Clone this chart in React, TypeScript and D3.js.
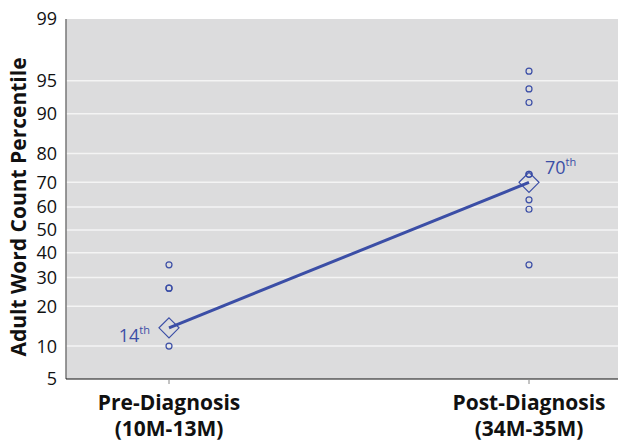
import React from "react";
import * as d3 from "d3";

const categories = ["Pre-Diagnosis", "Post-Diagnosis"];
const categorySub = ["(10M-13M)", "(34M-35M)"];
const preValues = [35, 26, 26, 10];
const postValues = [96, 94, 92, 73, 73, 63, 59, 35];
const summaryValues = [14, 70];
const summaryLabels = ["14", "70"];
const yTicks = [5, 10, 20, 30, 40, 50, 60, 70, 80, 90, 95, 99];

const W = 618, H = 441;
const M = { left: 66, right: 0, top: 19, bottom: 62 };
const BLUE = "#3b4ea6";
const FONT = "'Open Sans', 'Noto Sans', sans-serif";

function probit(p: number) {
  // Acklam's inverse normal CDF
  const a = [-3.969683028665376e1, 2.209460984245205e2, -2.759285104469687e2, 1.38357751867269e2, -3.066479806614716e1, 2.506628277459239];
  const b = [-5.447609879822406e1, 1.615858368580409e2, -1.556989798598866e2, 6.680131188771972e1, -1.328068155288572e1];
  const c = [-7.784894002430293e-3, -3.223964580411365e-1, -2.400758277161838, -2.549732539343734, 4.374664141464968, 2.938163982698783];
  const d = [7.784695709041462e-3, 3.224671290700398e-1, 2.445134137142996, 3.754408661907416];
  const pl = 0.02425;
  let q, r;
  if (p < pl) {
    q = Math.sqrt(-2 * Math.log(p));
    return (((((c[0] * q + c[1]) * q + c[2]) * q + c[3]) * q + c[4]) * q + c[5]) / ((((d[0] * q + d[1]) * q + d[2]) * q + d[3]) * q + 1);
  } else if (p <= 1 - pl) {
    q = p - 0.5; r = q * q;
    return (((((a[0] * r + a[1]) * r + a[2]) * r + a[3]) * r + a[4]) * r + a[5]) * q / (((((b[0] * r + b[1]) * r + b[2]) * r + b[3]) * r + b[4]) * r + 1);
  } else {
    q = Math.sqrt(-2 * Math.log(1 - p));
    return -(((((c[0] * q + c[1]) * q + c[2]) * q + c[3]) * q + c[4]) * q + c[5]) / ((((d[0] * q + d[1]) * q + d[2]) * q + d[3]) * q + 1);
  }
}

export default function App() {
  const x = d3.scaleLinear().domain([0, 1]).range([169, 529]);
  const z = d3.scaleLinear()
    .domain([probit(0.05), probit(0.99)])
    .range([H - M.bottom, M.top]);
  const y = (v: number) => z(probit(v / 100));

  const diamond = (cx: number, cy: number, r: number) =>
    `M${cx},${cy - r}L${cx + r},${cy}L${cx},${cy + r}L${cx - r},${cy}Z`;

  const line = d3.line<number>().x((_, i) => x(i)).y((v) => y(v));

  return (
    <svg width={W} height={H} style={{ position: "absolute", left: 0, top: 0 }} fontFamily={FONT}>
      <rect x={M.left} y={M.top} width={W - M.left - M.right} height={H - M.top - M.bottom} fill="#dcdcdd" />
      {yTicks.filter((t) => t !== 5 && t !== 99).map((t) => (
        <line key={t} x1={M.left} x2={W} y1={y(t)} y2={y(t)} stroke="#f4f4f4" strokeWidth={1.5} />
      ))}
      <line x1={M.left} x2={M.left} y1={M.top} y2={H - M.bottom} stroke="#777" strokeWidth={1.5} />
      <line x1={M.left} x2={W} y1={H - M.bottom} y2={H - M.bottom} stroke="#111" strokeWidth={1.2} />
      {categories.map((c, i) => (
        <line key={c} x1={x(i)} x2={x(i)} y1={H - M.bottom} y2={H - M.bottom + 5} stroke="#888" strokeWidth={1} />
      ))}
      {yTicks.map((t) => (
        <text key={t} x={57} y={y(t)} dy="0.36em" textAnchor="end" fontSize={18} fill="#111">{t}</text>
      ))}
      <text transform={`translate(26,${(M.top + H - M.bottom) / 2 + 8}) rotate(-90)`} textAnchor="middle" fontSize={21} fontWeight="bold" fill="#111">
        Adult Word Count Percentile
      </text>
      {categories.map((c, i) => (
        <g key={c}>
          <text x={x(i)} y={410} textAnchor="middle" fontSize={21} fontWeight="bold" fill="#111">{c}</text>
          <text x={x(i)} y={436} textAnchor="middle" fontSize={21} fontWeight="bold" fill="#111">{categorySub[i]}</text>
        </g>
      ))}
      <path d={line(summaryValues) || ""} fill="none" stroke={BLUE} strokeWidth={3} />
      {preValues.map((v, i) => (
        <circle key={"a" + i} cx={x(0)} cy={y(v)} r={3} fill="none" stroke={BLUE} strokeWidth={1.2} />
      ))}
      {postValues.map((v, i) => (
        <circle key={"b" + i} cx={x(1)} cy={y(v)} r={3} fill="none" stroke={BLUE} strokeWidth={1.2} />
      ))}
      {summaryValues.map((v, i) => (
        <path key={"d" + i} d={diamond(x(i), y(v), 10)} fill="none" stroke={BLUE} strokeWidth={1.2} />
      ))}
      <text x={x(0) - 19} y={y(summaryValues[0]) + 14} textAnchor="end" fontSize={18} fill={BLUE}>
        {summaryLabels[0]}<tspan fontSize={11} dy={-8}>th</tspan>
      </text>
      <text x={x(1) + 16} y={y(summaryValues[1]) - 8} textAnchor="start" fontSize={18} fill={BLUE}>
        {summaryLabels[1]}<tspan fontSize={11} dy={-8}>th</tspan>
      </text>
    </svg>
  );
}
